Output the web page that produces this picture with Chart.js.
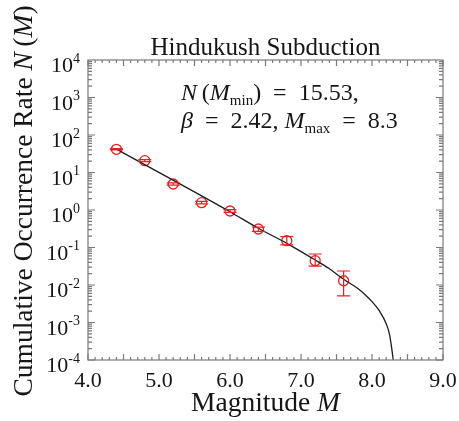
<!DOCTYPE html>
<html>
<head>
<meta charset="utf-8">
<script src="https://cdn.jsdelivr.net/npm/chart.js@4.4.1/dist/chart.umd.min.js"></script>
<style>
  html, body { margin: 0; padding: 0; background: #fff; }
</style>
</head>
<body>
<canvas id="mycanvas" width="459" height="421"></canvas>
<script>
// observed cumulative rates with their error ranges
var magnitudes = [4.4, 4.8, 5.2, 5.6, 6.0, 6.4, 6.8, 7.2, 7.6];
var rates      = [41.6, 20.7, 4.94, 1.57, 0.94, 0.311, 0.152, 0.0445, 0.013];
var rateLow    = [40.0, 19.5, 4.6, 1.45, 0.86, 0.27, 0.117, 0.032, 0.0051];
var rateHigh   = [43.5, 22.0, 5.3, 1.70, 1.02, 0.35, 0.194, 0.067, 0.0236];

// truncated fit curve
var fitMagnitudes = [4.4, 6.0, 6.4, 6.8, 7.2, 7.4, 7.6, 7.8, 7.9, 8.0, 8.1, 8.2, 8.25, 8.3];
var fitRates      = [42, 0.90, 0.325, 0.129, 0.0464, 0.027, 0.0142, 0.0081, 0.0056, 0.0036, 0.0021, 0.00093, 0.00045, 0.0001];

var xTicks = [4.0, 5.0, 6.0, 7.0, 8.0, 9.0];
var yExponents = [-4, -3, -2, -1, 0, 1, 2, 3, 4];

var SERIF = "'Liberation Serif', 'Times New Roman', serif";
var RED = "rgb(232,32,36)";
var FRAME = "#7a7a7a";
var INK = "#161616";

function fontFor(style, size) {
  var s = (style === "sub" || style === "sup") ? Math.round(size * 0.64) : size;
  return (style === "i" ? "italic " : "") + s + "px " + SERIF;
}

// draws a list of [text, style] pieces on one baseline
function drawRich(ctx, parts, x, y, size, align) {
  var w = 0;
  parts.forEach(function(p) {
    ctx.font = fontFor(p[1], size);
    w += ctx.measureText(p[0]).width;
  });
  var cx = x;
  if (align === "center") cx = x - w / 2;
  if (align === "right") cx = x - w;
  parts.forEach(function(p) {
    ctx.font = fontFor(p[1], size);
    var dy = 0;
    if (p[1] === "sub") dy = size * 0.22;
    if (p[1] === "sup") dy = -size * 0.42;
    ctx.fillText(p[0], cx, y + dy);
    cx += ctx.measureText(p[0]).width;
  });
}

var points = magnitudes.map(function(m, i) { return { x: m, y: rates[i] }; });
var curve = fitMagnitudes.map(function(m, i) { return { x: m, y: fitRates[i] }; });

var errorBars = {
  id: "errorBars",
  afterDatasetsDraw: function(chart) {
    var ctx = chart.ctx, xs = chart.scales.x, ys = chart.scales.y;
    ctx.save();
    ctx.strokeStyle = RED;
    ctx.lineWidth = 1.2;
    for (var i = 0; i < magnitudes.length; i++) {
      var px = xs.getPixelForValue(magnitudes[i]);
      var lo = ys.getPixelForValue(rateLow[i]);
      var hi = ys.getPixelForValue(rateHigh[i]);
      ctx.beginPath();
      ctx.moveTo(px, lo); ctx.lineTo(px, hi);
      ctx.moveTo(px - 6.5, lo); ctx.lineTo(px + 6.5, lo);
      ctx.moveTo(px - 6.5, hi); ctx.lineTo(px + 6.5, hi);
      ctx.stroke();
    }
    ctx.restore();
  }
};

// box, inward ticks on all sides, tick labels and titles
var frame = {
  id: "frame",
  afterDraw: function(chart) {
    var ctx = chart.ctx, a = chart.chartArea;
    var xs = chart.scales.x, ys = chart.scales.y;
    ctx.save();
    ctx.strokeStyle = FRAME;
    ctx.lineWidth = 1.2;
    ctx.strokeRect(a.left, a.top, a.right - a.left, a.bottom - a.top);

    ctx.beginPath();
    for (var k = 0; k <= 50; k++) {
      var v = 4 + k * 0.1;
      var px = xs.getPixelForValue(v);
      var len = (k % 5 === 0) ? 6 : 3;
      ctx.moveTo(px, a.bottom); ctx.lineTo(px, a.bottom - len);
      ctx.moveTo(px, a.top); ctx.lineTo(px, a.top + len);
    }
    for (var e = -4; e < 4; e++) {
      for (var m = 1; m <= 9; m++) {
        var py = ys.getPixelForValue(m * Math.pow(10, e));
        var l = (m === 1) ? 7 : 4;
        ctx.moveTo(a.left, py); ctx.lineTo(a.left + l, py);
        ctx.moveTo(a.right, py); ctx.lineTo(a.right - l, py);
      }
    }
    ctx.stroke();

    ctx.fillStyle = INK;
    ctx.textBaseline = "alphabetic";
    ctx.textAlign = "left";
    xTicks.forEach(function(t) {
      drawRich(ctx, [[t.toFixed(1), ""]], xs.getPixelForValue(t), a.bottom + 27, 22, "center");
    });
    yExponents.forEach(function(e) {
      var py = ys.getPixelForValue(Math.pow(10, e));
      var exp = (e < 0 ? "-" : "") + Math.abs(e);
      drawRich(ctx, [["10", ""], [exp, "sup"]], 80, py + 12, 22, "right");
    });

    drawRich(ctx, [["Hindukush Subduction", ""]], (a.left + a.right) / 2, 55, 25, "center");
    drawRich(ctx, [["Magnitude ", ""], ["M", "i"]], (a.left + a.right) / 2, 411, 27.5, "center");

    ctx.save();
    ctx.translate(32, 201);
    ctx.rotate(-Math.PI / 2);
    drawRich(ctx, [["Cumulative Occurrence Rate ", ""], ["N", "i"], ["\u2009(", ""], ["M", "i"], [")", ""]], 0, 0, 27.5, "center");
    ctx.restore();

    drawRich(ctx, [["N", "i"], ["\u2009(", ""], ["M", "i"], ["min", "sub"], [")\u2002=\u200215.53,", ""]], 181, 100, 24, "left");
    drawRich(ctx, [["\u03b2", "i"], ["\u2002=\u20022.42, ", ""], ["M", "i"], ["max", "sub"], ["\u2002=\u20028.3", ""]], 181, 128, 24, "left");
    ctx.restore();
  }
};

var ctx = document.getElementById("mycanvas");

var chart = new Chart(ctx, {
  type: "scatter",
  data: {
    datasets: [
      {
        label: "fit",
        data: curve,
        showLine: true,
        cubicInterpolationMode: "monotone",
        borderColor: "#1c1c1c",
        borderWidth: 1.3,
        pointRadius: 0,
        fill: false
      },
      {
        label: "observed",
        data: points,
        pointStyle: "circle",
        pointRadius: 5,
        borderColor: RED,
        backgroundColor: "rgba(0,0,0,0)",
        borderWidth: 1.3
      }
    ]
  },
  options: {
    responsive: false,
    animation: false,
    devicePixelRatio: 1,
    layout: { padding: { left: 88, right: 16, top: 60, bottom: 61 } },
    plugins: { legend: { display: false }, tooltip: { enabled: false } },
    scales: {
      x: { type: "linear", min: 4, max: 9, display: false },
      y: { type: "logarithmic", min: 1e-4, max: 1e4, display: false }
    }
  },
  plugins: [errorBars, frame]
});
</script>
</body>
</html>
